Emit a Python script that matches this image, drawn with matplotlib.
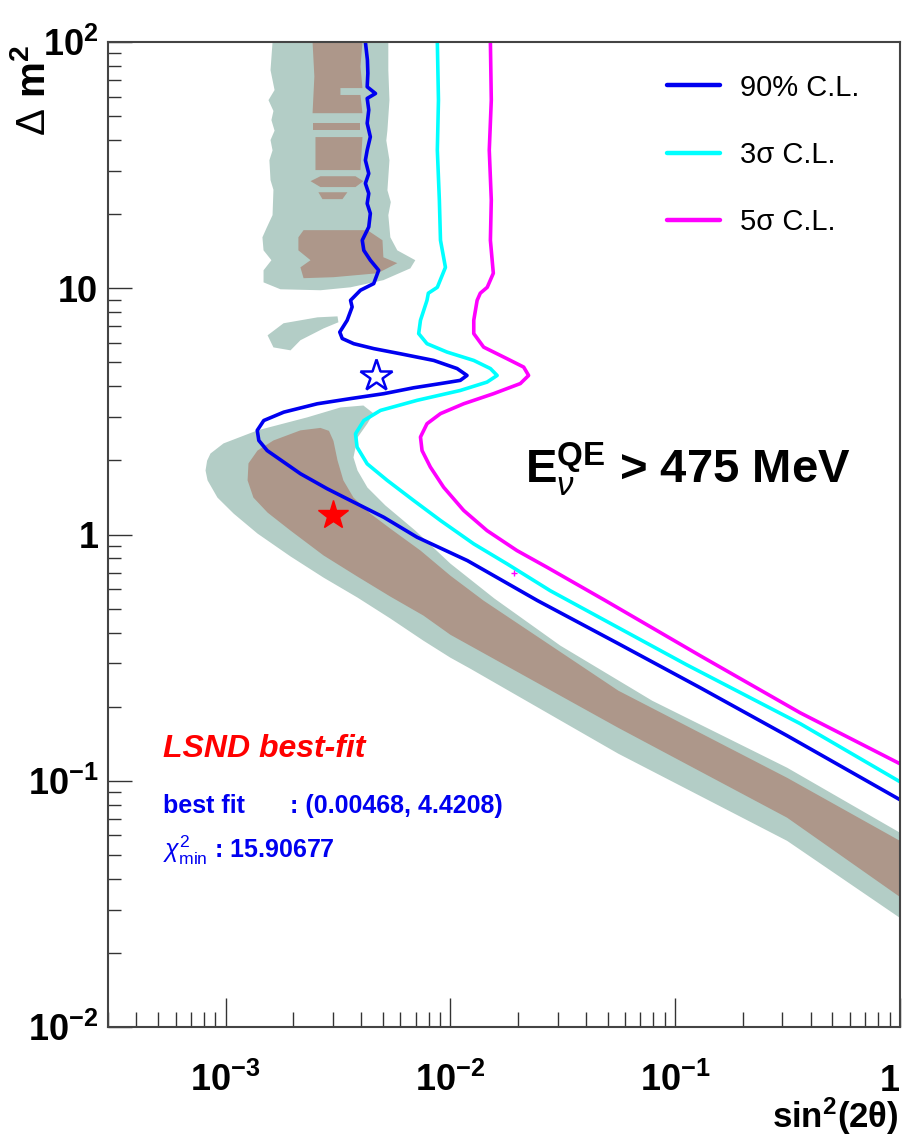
import numpy as np
import matplotlib.pyplot as plt
from matplotlib.ticker import LogLocator, NullFormatter

plt.rcParams['font.family'] = ['Liberation Sans', 'DejaVu Sans']
plt.rcParams['mathtext.fontset'] = 'custom'
plt.rcParams['mathtext.rm'] = 'Liberation Sans'
plt.rcParams['mathtext.it'] = 'Liberation Sans:italic'
plt.rcParams['mathtext.bf'] = 'Liberation Sans:bold'

# all contours stored as log10(sin^2 2theta), log10(dm^2)
cl90_lx = [-2.378, -2.369, -2.367, -2.370, -2.333, -2.370, -2.363, -2.370, -2.356, -2.370,
           -2.378, -2.363, -2.378, -2.363, -2.370, -2.356, -2.363, -2.392, -2.385, -2.356,
           -2.319, -2.341, -2.400, -2.444, -2.437, -2.459, -2.492, -2.481, -2.430, -2.341,
           -2.222, -2.074, -1.970, -1.926, -1.956, -2.044, -2.163, -2.296, -2.444, -2.592,
           -2.741, -2.830, -2.859, -2.852, -2.815, -2.741, -2.667, -2.548, -2.444, -2.296,
           -2.148, -1.924, -1.613, -1.253, -0.889, -0.502, 0.000]
cl90_ly = [2.000, 1.927, 1.873, 1.818, 1.791, 1.771, 1.724, 1.670, 1.615, 1.561,
           1.520, 1.466, 1.426, 1.385, 1.344, 1.304, 1.249, 1.195, 1.154, 1.114,
           1.073, 1.019, 0.992, 0.951, 0.924, 0.870, 0.822, 0.796, 0.775, 0.755,
           0.734, 0.707, 0.674, 0.646, 0.626, 0.613, 0.596, 0.572, 0.552, 0.531,
           0.497, 0.463, 0.423, 0.382, 0.341, 0.294, 0.247, 0.186, 0.138, 0.070,
           -0.011, -0.106, -0.268, -0.443, -0.622, -0.817, -1.077]

cl3s_lx = [-2.058, -2.053, -2.058, -2.049, -2.044, -2.022, -2.058, -2.098, -2.104, -2.133,
           -2.141, -2.104, -2.015, -1.896, -1.822, -1.792, -1.837, -1.956, -2.148, -2.311,
           -2.385, -2.422, -2.415, -2.370, -2.281, -2.163, -2.044, -1.896, -1.748, -1.556,
           -0.951, -0.444, 0.000]
cl3s_ly = [2.000, 1.764, 1.561, 1.358, 1.195, 1.085, 1.004, 0.980, 0.951, 0.870,
           0.816, 0.775, 0.741, 0.707, 0.674, 0.646, 0.619, 0.585, 0.545, 0.504,
           0.463, 0.409, 0.355, 0.287, 0.220, 0.138, 0.057, -0.038, -0.119, -0.228,
           -0.528, -0.768, -1.004]

cl5s_lx = [-1.822, -1.818, -1.827, -1.818, -1.822, -1.809, -1.836, -1.867, -1.881, -1.896,
           -1.896, -1.852, -1.748, -1.674, -1.652, -1.689, -1.808, -1.941, -2.044, -2.104,
           -2.133, -2.126, -2.089, -2.030, -1.941, -1.837, -1.704, -1.570, -1.311, -0.889,
           -0.444, 0.000]
cl5s_ly = [2.000, 1.764, 1.561, 1.358, 1.195, 1.061, 1.004, 0.980, 0.951, 0.870,
           0.816, 0.761, 0.714, 0.680, 0.646, 0.613, 0.572, 0.531, 0.491, 0.450,
           0.396, 0.341, 0.274, 0.192, 0.098, 0.016, -0.065, -0.133, -0.268, -0.492,
           -0.724, -0.931]

# LSND allowed regions (outer = 99%, inner = 90%)
lsnd99_low_lx = [-3.089, -3.082, -3.067, -3.009, -2.858, -2.636, -2.489, -2.387, -2.342, -2.369,
                 -2.413, -2.431, -2.413, -2.369, -2.289, -2.156, -2.000, -1.804, -1.511, -1.102,
                 -0.502, 0.000, 0.000, -0.502, -1.253, -1.911, -2.000, -2.120, -2.267, -2.413,
                 -2.564, -2.711, -2.858, -2.964, -3.036, -3.080]
lsnd99_low_ly = [0.260, 0.300, 0.329, 0.370, 0.423, 0.476, 0.516, 0.524, 0.492, 0.451,
                 0.394, 0.313, 0.260, 0.191, 0.118, 0.016, -0.118, -0.260, -0.451, -0.675,
                 -0.947, -1.211, -1.557, -1.244, -0.890, -0.545, -0.500, -0.431, -0.341, -0.256,
                 -0.175, -0.089, 0.004, 0.085, 0.150, 0.220]

lsnd90_low_lx = [-2.898, -2.858, -2.787, -2.667, -2.578, -2.540, -2.520, -2.502, -2.476, -2.431,
                 -2.356, -2.267, -2.133, -2.000, -1.853, -1.253, -0.502, 0.000, 0.000, -0.502,
                 -1.253, -2.000, -2.120, -2.267, -2.413, -2.564, -2.711, -2.813, -2.876, -2.902]
lsnd90_low_ly = [0.289, 0.341, 0.382, 0.423, 0.433, 0.421, 0.380, 0.301, 0.220, 0.150,
                 0.085, 0.024, -0.065, -0.167, -0.268, -0.634, -0.988, -1.244, -1.472, -1.150,
                 -0.785, -0.407, -0.329, -0.252, -0.171, -0.085, 0.016, 0.089, 0.150, 0.220]

lsnd99_up_lx = [-2.791, -2.800, -2.782, -2.809, -2.787, -2.796, -2.782, -2.800, -2.791, -2.805,
                -2.800, -2.787, -2.791, -2.818, -2.836, -2.831, -2.796, -2.831, -2.831, -2.756,
                -2.578, -2.444, -2.298, -2.178, -2.156, -2.236, -2.267, -2.276, -2.265, -2.280,
                -2.271, -2.285, -2.280, -2.271, -2.276, -2.276]
lsnd99_up_ly = [2.000, 1.886, 1.805, 1.764, 1.720, 1.683, 1.640, 1.602, 1.560, 1.520,
                1.439, 1.400, 1.297, 1.244, 1.207, 1.154, 1.114, 1.073, 1.024, 0.996,
                0.992, 1.004, 1.033, 1.081, 1.114, 1.154, 1.207, 1.297, 1.350, 1.398,
                1.520, 1.600, 1.642, 1.764, 1.886, 2.000]

lsnd99_blob_lx = [-2.813, -2.742, -2.591, -2.502, -2.498, -2.564, -2.667, -2.711, -2.787]
lsnd99_blob_ly = [0.809, 0.858, 0.882, 0.886, 0.862, 0.837, 0.789, 0.748, 0.760]

lsnd90_up_pieces = [
    ([-2.613, -2.605, -2.613, -2.391, -2.400, -2.489, -2.489, -2.391, -2.400, -2.391],
     [2.000, 1.860, 1.711, 1.711, 1.785, 1.785, 1.813, 1.813, 1.900, 2.000]),
    ([-2.613, -2.613, -2.400, -2.400], [1.671, 1.642, 1.642, 1.671]),
    ([-2.600, -2.600, -2.400, -2.391], [1.614, 1.480, 1.480, 1.614]),
    ([-2.622, -2.578, -2.422, -2.387, -2.422, -2.578], [1.435, 1.455, 1.455, 1.435, 1.411, 1.411]),
    ([-2.587, -2.458, -2.480, -2.569], [1.390, 1.390, 1.362, 1.362]),
    ([-2.676, -2.653, -2.369, -2.302, -2.298, -2.236, -2.324, -2.520, -2.653, -2.667, -2.622, -2.676],
     [1.207, 1.236, 1.236, 1.195, 1.126, 1.102, 1.061, 1.045, 1.041, 1.085, 1.114, 1.154]),
]

best_fit = (0.00468, 4.4208)
lsnd_best = (0.003, 1.2)
stray_point = (0.0192, 0.70)

legend_labels = ['90% C.L.', '3σ C.L.', '5σ C.L.']
line_colors = ['#0000f0', '#00ffff', '#ff00ff']
c_outer = '#b3cdc6'
c_inner = '#ad978a'


def pw(a):
    return 10 ** np.asarray(a)


fig = plt.figure(figsize=(9.03, 11.39), dpi=100)
ax = fig.add_axes([0.1196, 0.0983, 0.8771, 0.8648])
ax.set_xscale('log')
ax.set_yscale('log')

ax.fill(pw(lsnd99_low_lx), pw(lsnd99_low_ly), color=c_outer, lw=0)
ax.fill(pw(lsnd99_up_lx), pw(lsnd99_up_ly), color=c_outer, lw=0)
ax.fill(pw(lsnd99_blob_lx), pw(lsnd99_blob_ly), color=c_outer, lw=0)
ax.fill(pw(lsnd90_low_lx), pw(lsnd90_low_ly), color=c_inner, lw=0)
for px_, py_ in lsnd90_up_pieces:
    ax.fill(pw(px_), pw(py_), color=c_inner, lw=0)

for lx, ly, col, lab in zip([cl90_lx, cl3s_lx, cl5s_lx], [cl90_ly, cl3s_ly, cl5s_ly],
                            line_colors, legend_labels):
    ax.plot(pw(lx), pw(ly), color=col, lw=2.6, label=lab,
            solid_capstyle='round', solid_joinstyle='round')

ax.plot(*stray_point, marker='+', ms=4, color='#ff00ff', mew=1)
ax.plot(*best_fit, marker='*', ms=24, mfc='white', mec='#0000f0', mew=1.8)
ax.plot(*lsnd_best, marker='*', ms=22, color='red', mec='red')

ax.set_xlim(3e-4, 1)
ax.set_ylim(1e-2, 1e2)

ax.set_xticks([1e-3, 1e-2, 1e-1, 1])
ax.set_xticklabels([r'$\mathbf{10^{-3}}$', r'$\mathbf{10^{-2}}$', r'$\mathbf{10^{-1}}$', '1'],
                   fontsize=26, fontweight='bold')
ax.set_yticks([1e-2, 1e-1, 1, 10, 1e2])
ax.set_yticklabels([r'$\mathbf{10^{-2}}$', r'$\mathbf{10^{-1}}$', '1', '10', r'$\mathbf{10^{2}}$'],
                   fontsize=26, fontweight='bold')
for lab in ax.get_xticklabels():
    lab.set_va('baseline')
ax.get_xticklabels()[-1].set_ha('right')
ax.xaxis.set_minor_locator(LogLocator(base=10, subs=np.arange(2, 10), numticks=20))
ax.yaxis.set_minor_locator(LogLocator(base=10, subs=np.arange(2, 10), numticks=20))
ax.xaxis.set_minor_formatter(NullFormatter())
ax.yaxis.set_minor_formatter(NullFormatter())
ax.tick_params(which='both', direction='in', top=False, right=False, color='#333333', width=1)
ax.tick_params(axis='x', which='major', length=21, pad=46)
ax.tick_params(axis='x', which='minor', length=11)
ax.tick_params(axis='y', which='major', length=17, pad=7)
ax.tick_params(axis='y', which='minor', length=9)
for s in ax.spines.values():
    s.set_linewidth(1.5)
    s.set_color('#444444')

leg = ax.legend(loc='upper left', bbox_to_anchor=(0.706, 0.968), frameon=False,
                fontsize=21, handlelength=1.8, handletextpad=0.7, labelspacing=1.35,
                borderpad=0, borderaxespad=0)
for h in leg.get_lines():
    h.set_linewidth(3.2)

fig.text(0.037, 0.9605, r'$\Delta$ m$^{\mathbf{2}}$', rotation=90, ha='center', va='top',
         fontsize=29, fontweight='bold')
fig.text(0.9956, 0.0095, r'sin$^{\mathbf{2}}$(2θ)', ha='right', va='baseline',
         fontsize=25, fontweight='bold')

ax.text(0.5265, 0.5523, r'E$_{\nu}^{\mathbf{QE}}$ > 475 MeV', transform=ax.transAxes,
        fontsize=34, fontweight='bold', ha='left', va='baseline')
ax.text(0.069, 0.274, 'LSND best-fit', transform=ax.transAxes, color='red',
        fontsize=23, fontweight='bold', style='italic', va='baseline')
ax.text(0.069, 0.217, 'best fit', transform=ax.transAxes, color='#0000f0',
        fontsize=18, fontweight='bold', va='baseline')
ax.text(0.230, 0.217, ': (0.00468, 4.4208)', transform=ax.transAxes, color='#0000f0',
        fontsize=18, fontweight='bold', va='baseline')
ax.text(0.069, 0.172, r'$\chi^{2}_{\mathrm{min}}$ : 15.90677', transform=ax.transAxes,
        color='#0000f0', fontsize=18, fontweight='bold', va='baseline')

fig.savefig('out.png', dpi=100)
